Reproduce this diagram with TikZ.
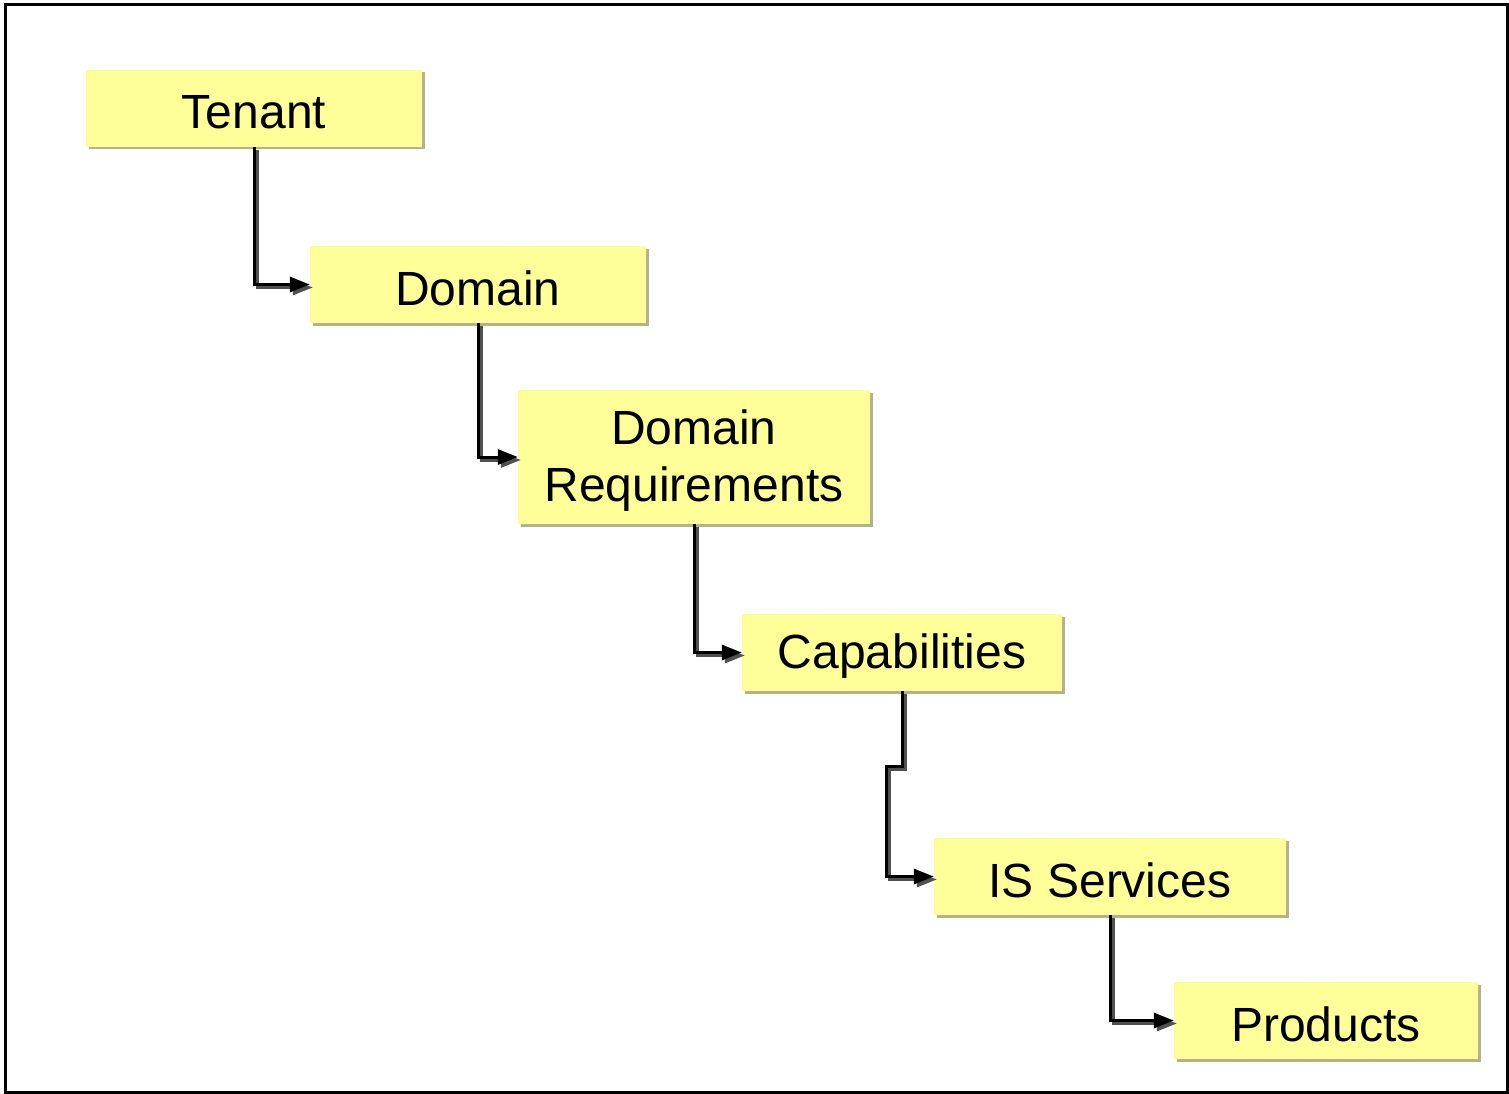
\documentclass[tikz,border=0pt]{standalone}
\usepackage{fontspec}
\setmainfont{Liberation Sans}
\usetikzlibrary{shadows,arrows.meta}
\definecolor{boxfill}{RGB}{255,255,153}
\definecolor{boxshadow}{RGB}{178,178,140}
\definecolor{lineshadow}{RGB}{80,80,80}
\newcommand{\lowtxt}[1]{\raisebox{-3.5pt}[\height][\depth]{#1}}
\tikzset{
  stepbox/.style={rectangle, fill=boxfill, inner sep=0pt, align=center,
    font=\fontsize{48}{57}\selectfont,
    drop shadow={shadow xshift=2.5pt, shadow yshift=-2.5pt, fill=boxshadow, opacity=1}},
  connshadow/.style={draw=lineshadow, line width=3pt,
    transform canvas={xshift=3pt, yshift=-3pt},
    -{Stealth[length=20pt,width=15pt,inset=0pt]}},
  conn/.style={draw=black, line width=3pt,
    -{Stealth[length=20pt,width=15pt,inset=0pt]}}
}
\begin{document}
\begin{tikzpicture}[x=1pt,y=-1pt]
\useasboundingbox (0,0) rectangle (1509,1094);
\draw[line width=3pt] (5,5) rectangle (1507,1092);

\node[stepbox, minimum width=336pt, minimum height=77pt] (tenant) at (254,108.5) {\lowtxt{Tenant}};
\node[stepbox, minimum width=336pt, minimum height=77pt] (domain) at (478,284.5) {\lowtxt{Domain}};
\node[stepbox, minimum width=352pt, minimum height=134pt] (req) at (694,457) {\lowtxt{Domain}\\\lowtxt{Requirements}};
\node[stepbox, minimum width=320pt, minimum height=77pt] (cap) at (902,652.5) {\lowtxt{Capabilities}};
\node[stepbox, minimum width=352pt, minimum height=77pt] (iss) at (1110,876.5) {\lowtxt{IS Services}};
\node[stepbox, minimum width=304pt, minimum height=77pt] (prod) at (1326,1020.5) {\lowtxt{Products}};

\coordinate (capbend) at (886,766);

\foreach \s in {connshadow,conn}{
  \draw[\s] (tenant.south) |- (domain.west);
  \draw[\s] (domain.south) |- (req.west);
  \draw[\s] (req.south) |- (cap.west);
  \draw[\s] (cap.south) |- (capbend) |- (iss.west);
  \draw[\s] (iss.south) |- (prod.west);
}
\end{tikzpicture}
\end{document}
